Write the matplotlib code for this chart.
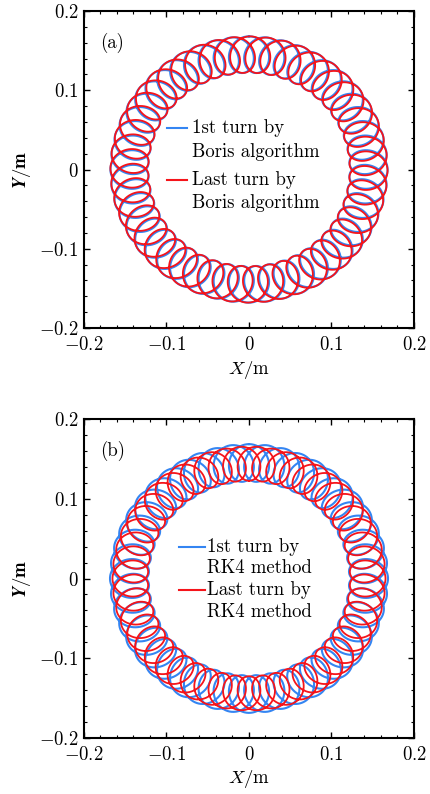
import numpy as np
import matplotlib
matplotlib.use('Agg')
import matplotlib.pyplot as plt
from matplotlib.ticker import FixedLocator, FixedFormatter, MultipleLocator

plt.rcParams['font.family'] = 'serif'
plt.rcParams['font.serif'] = ['cmr10']
plt.rcParams['mathtext.fontset'] = 'cm'
plt.rcParams['axes.unicode_minus'] = False

# tick values / labels
ticks = [-0.2, -0.1, 0.0, 0.1, 0.2]
tick_labels = [r'$-0.2$', r'$-0.1$', r'$0$', r'$0.1$', r'$0.2$']

# orbit parameters (one turn each):
# guiding-centre radius, radial / tangential gyro size, gyrations per turn, start phase
panels = ['(a)', '(b)']
blue_R = [0.145, 0.145]
blue_a = [0.023, 0.0235]
blue_b = [0.0195, 0.0195]
blue_N = [48, 48]
blue_phase = [0.0, 0.0]
red_R = [0.145, 0.144]
red_a = [0.023, 0.0215]
red_b = [0.0195, 0.018]
red_N = [48, 50]
red_phase = [0.5, np.pi]
labels_blue = ['1st turn by\nBoris algorithm', '1st turn by\nRK4 method']
labels_red = ['Last turn by\nBoris algorithm', 'Last turn by\nRK4 method']

# legend layout in axes fractions: handle x0, x1, text x, line y's
leg_x = [(0.252, 0.312, 0.327), (0.288, 0.367, 0.374)]
leg_y_blue = [(0.631, 0.555), (0.599, 0.533)]
leg_y_red = [(0.467, 0.393), (0.464, 0.395)]

blue = '#3485f2'
red = '#f5141a'
fs = 13.5


def orbit(R, a, b, N, phase, n=8000):
    t = np.linspace(0, 1, n)
    th = np.pi / 2 + 2 * np.pi * t
    ph = phase + 2 * np.pi * N * t
    rad = R + a * np.cos(ph)
    tan = b * np.sin(ph)
    x = rad * np.cos(th) - tan * np.sin(th)
    y = rad * np.sin(th) + tan * np.cos(th)
    return x, y


fig = plt.figure(figsize=(4.31, 7.94), dpi=100)
boxes = [[84 / 431, 1 - 328 / 794, 330 / 431, 317 / 794],
         [84 / 431, 1 - 738 / 794, 330 / 431, 319 / 794]]

for i in range(2):
    ax = fig.add_axes(boxes[i])
    bx, by = orbit(blue_R[i], blue_a[i], blue_b[i], blue_N[i], blue_phase[i])
    rx, ry = orbit(red_R[i], red_a[i], red_b[i], red_N[i], red_phase[i])
    ax.plot(bx, by, color=blue, lw=1.5)
    ax.plot(rx, ry, color=red, lw=1.3)
    ax.set_xlim(-0.2, 0.2)
    ax.set_ylim(-0.2, 0.2)
    ax.xaxis.set_major_locator(FixedLocator(ticks))
    ax.xaxis.set_major_formatter(FixedFormatter(tick_labels))
    ax.yaxis.set_major_locator(FixedLocator(ticks))
    ax.yaxis.set_major_formatter(FixedFormatter(tick_labels))
    ax.xaxis.set_minor_locator(MultipleLocator(0.02))
    ax.yaxis.set_minor_locator(MultipleLocator(0.02))
    ax.tick_params(which='both', direction='in', top=True, right=True, labelsize=fs)
    ax.tick_params(axis='x', which='major', pad=6)
    ax.tick_params(axis='y', which='major', pad=4)
    ax.tick_params(which='major', length=4, width=1)
    ax.tick_params(which='minor', length=2, width=0.8)
    for s in ax.spines.values():
        s.set_linewidth(1.5)
    ax.set_xlabel(r'$X/\mathrm{m}$', fontsize=fs, labelpad=3)
    ax.set_ylabel(r'$\boldsymbol{Y}/\mathbf{m}$', fontsize=fs, labelpad=4)
    ax.text(0.048, 0.90, panels[i], transform=ax.transAxes, fontsize=fs, va='center')

    # legend drawn by hand: handle sits on the first text line
    x0, x1, xt = leg_x[i]
    for col, lab, ys in [(blue, labels_blue[i], leg_y_blue[i]),
                         (red, labels_red[i], leg_y_red[i])]:
        ax.plot([x0, x1], [ys[0], ys[0]], color=col, lw=1.5, transform=ax.transAxes)
        for line, yy in zip(lab.split('\n'), ys):
            ax.text(xt, yy, line, transform=ax.transAxes, fontsize=fs,
                    va='center', ha='left')

fig.savefig('out.png', dpi=100)
